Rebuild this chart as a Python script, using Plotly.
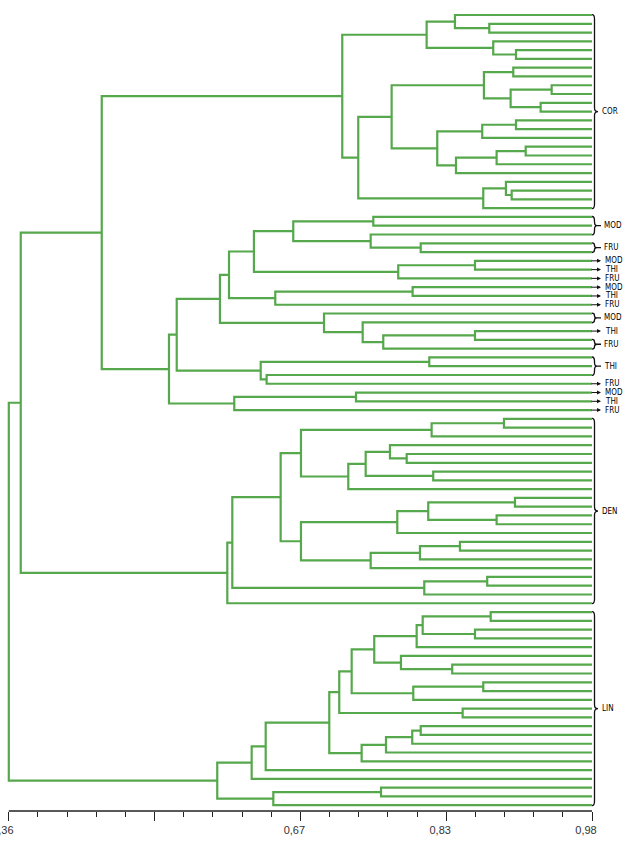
import plotly.graph_objects as go

# ---------------- data ----------------
AXIS_MIN, AXIS_MAX = 0.36, 0.98
TICK_VALUES = [0.36, 0.515, 0.67, 0.825, 0.98]
TICK_LABELS = ["0,36", "", "0,67", "0,83", "0,98"]
MINOR_STEP = 0.031

# Trees: [similarity, left, right]; None = leaf (leaves are numbered top to bottom)
COR_TREE = [0.7145,
            [0.8042,
             [0.8343, None, [0.8708, None, None]],
             [0.8750, None, [0.8992, None, None]]],
            [0.7315,
             [0.7670,
              [0.8651, [0.8963, None, None],
               [0.8935, [0.9371, None, None], [0.9254, None, None]]],
              [0.8155,
               [0.8633, [0.8992, None, None], None],
               [0.8354, [0.8786, [0.9095, None, None], None], None]]],
             [0.8644, [0.8885, None, [0.8946, None, None]], None]]]

MOD_TREE = [0.5303,
            [0.5385,
             [0.5845,
              [0.5941,
               [0.6206,
                [0.6624, [0.7475, None, None], [0.7447, None, [0.7979, None, None]]],
                [0.7740, [0.8556, None, None], None]],
               [0.6433, [0.7893, None, None], None]],
              [0.6951, None, [0.7362, None, [0.7581, [0.8556, None, None], None]]]],
             [0.6278, [0.8070, None, None], [0.6341, None, None]]],
            [0.5997, [0.7291, None, None], None]]

DEN_TREE = [0.5923,
            [0.5976,
             [0.6490,
              [0.6706,
               [0.8095, [0.8864, None, None], None],
               [0.7209,
                [0.7394, [0.7652, None, [0.7830, None, None]], [0.8112, None, None]],
                None]],
              [0.6706,
               [0.7730, [0.8059, [0.8981, None, None], [0.8786, None, None]], None],
               [0.7447, [0.7971, [0.8396, None, None], None], None]]],
             [0.8017, [0.8686, None, None], None]],
            None]

LIN_TREE = [0.5816,
            [0.6182,
             [0.6331,
              [0.7007,
               [0.7113,
                [0.7245,
                 [0.7485,
                  [0.7936, [0.8000, [0.8723, None, None], [0.8556, None, None]], None],
                  [0.7769, None, [0.8314, None, None]]],
                 [0.7900, [0.8644, None, None], None]],
                [0.8425, None, None]],
               [0.7351, [0.7610, [0.7889, [0.7979, None, None], None], None], None]],
              None],
             None],
            [0.6412, [0.7557, None, None], None]]

TOP_SIMS = [0.36, 0.3727, 0.4588]   # root, (COR+MOD)+DEN, COR+MOD

LABEL_KIND = ["brace", "brace", "brace", "arrow", "arrow", "arrow", "arrow", "arrow", "arrow",
              "brace", "arrow", "brace", "brace", "arrow", "arrow", "arrow", "arrow",
              "brace", "brace"]
LABEL_FIRST = [0, 23, 26, 28, 29, 30, 31, 32, 33, 34, 36, 37, 39, 42, 43, 44, 45, 46, 68]
LABEL_LAST = [22, 25, 27, 28, 29, 30, 31, 32, 33, 35, 36, 38, 41, 42, 43, 44, 45, 67, 90]
LABEL_TEXT = ["COR", "MOD", "FRU", "MOD", "THI", "FRU", "MOD", "THI", "FRU",
              "MOD", "THI", "FRU", "THI", "FRU", "MOD", "THI", "FRU", "DEN", "LIN"]

# ---------------- geometry ----------------
W, H = 624, 842
PLOT_RIGHT_PX = 592
AXIS_LEFT_PX = 8.8
TOP_PX, BOTTOM_PX = 8, 811
FIRST_LEAF_PX, LEAF_STEP_PX = 15, 8.78

frac = AXIS_LEFT_PX / PLOT_RIGHT_PX
x_lo = (AXIS_MIN - AXIS_MAX * frac) / (1 - frac)
y_top = (TOP_PX - FIRST_LEAF_PX) / LEAF_STEP_PX
y_bot = (BOTTOM_PX - FIRST_LEAF_PX) / LEAF_STEP_PX

xs, ys = [], []
counter = [0]


def segs(x1, y1, s, x2, y2):
    xs.extend([x1, s, s, x2, None])
    ys.extend([y1, y1, y2, y2, None])


def walk(node):
    if node is None:
        y = counter[0]
        counter[0] += 1
        return AXIS_MAX, y
    s, left, right = node
    xl, yl = walk(left)
    xr, yr = walk(right)
    segs(xl, yl, s, xr, yr)
    return s, (yl + yr) / 2


cor = walk(COR_TREE)
mod = walk(MOD_TREE)
den = walk(DEN_TREE)
lin = walk(LIN_TREE)
segs(cor[0], cor[1], TOP_SIMS[2], mod[0], mod[1])
cm = (TOP_SIMS[2], (cor[1] + mod[1]) / 2)
segs(cm[0], cm[1], TOP_SIMS[1], den[0], den[1])
cmd = (TOP_SIMS[1], (cm[1] + den[1]) / 2)
segs(cmd[0], cmd[1], TOP_SIMS[0], lin[0], lin[1])

fig = go.Figure()
fig.add_trace(go.Scatter(x=xs, y=ys, mode="lines",
                         line=dict(color="#55a84b", width=2.2), hoverinfo="skip",
                         showlegend=False))

shapes = []
annotations = []
label_font = dict(family="DejaVu Sans Condensed, Roboto, sans-serif", size=8, color="#000")


def brace_path(y0, y1, big):
    ym = (y0 + y1) / 2
    w = 2.5
    tip = 6 if big else 5
    a = min(0.45, (y1 - y0) / 4)
    p = (f"M0,{y0 - 0.05} Q{w},{y0 - 0.05} {w},{y0 + a} L{w},{ym - a} Q{w},{ym} {tip},{ym} "
         f"Q{w},{ym} {w},{ym + a} L{w},{y1 - a} Q{w},{y1 + 0.05} 0,{y1 + 0.05}")
    if not big:
        p += f" M{tip},{ym} L{tip + 4},{ym}"
    return p


for kind, a0, a1, txt in zip(LABEL_KIND, LABEL_FIRST, LABEL_LAST, LABEL_TEXT):
    ym = (a0 + a1) / 2
    if kind == "brace":
        big = (a1 - a0) > 5
        shapes.append(dict(type="path", xref="paper", yref="y", xsizemode="pixel",
                           xanchor=1, path=brace_path(a0, a1, big),
                           line=dict(color="#111", width=1.3)))
        annotations.append(dict(x=1, xshift=(9 if big else 11), y=ym, xref="paper", yref="y",
                                text=txt, showarrow=False, xanchor="left", yanchor="middle",
                                borderpad=0, font=label_font))
    else:
        annotations.append(dict(x=1, xshift=9, y=ym, xref="paper", yref="y", text="",
                                showarrow=True, ax=-11, ay=0, axref="pixel", ayref="pixel",
                                arrowhead=2, arrowsize=0.8, arrowwidth=1, arrowcolor="#111",
                                standoff=0, startstandoff=0))
        annotations.append(dict(x=1, xshift=12, y=ym, xref="paper", yref="y",
                                text=txt, showarrow=False, xanchor="left", yanchor="middle",
                                borderpad=0, font=label_font))

# axis line (drawn from 0.36 to 0.98 only)
shapes.append(dict(type="line", xref="x", yref="paper", x0=AXIS_MIN, x1=AXIS_MAX, y0=0, y1=0,
                   line=dict(color="#222", width=1.4)))

minor_vals = []
k = 1
while AXIS_MIN + k * MINOR_STEP < AXIS_MAX - 1e-6:
    if k % 5 != 0:
        minor_vals.append(round(AXIS_MIN + k * MINOR_STEP, 4))
    k += 1

fig.update_layout(
    width=W, height=H,
    margin=dict(l=0, r=W - PLOT_RIGHT_PX, t=TOP_PX, b=H - BOTTOM_PX, pad=0),
    paper_bgcolor="white", plot_bgcolor="white",
    showlegend=False,
    shapes=shapes,
    annotations=annotations,
    xaxis=dict(range=[x_lo, AXIS_MAX], showgrid=False, zeroline=False, showline=False,
               ticks="outside", ticklen=9, tickwidth=1, tickcolor="#222",
               tickmode="array", tickvals=TICK_VALUES, ticktext=TICK_LABELS,
               ticklabeloverflow="allow", ticklabelshift=-6,
               tickfont=dict(family="Liberation Sans, Arial, sans-serif", size=11, color="#333"),
               minor=dict(tickmode="array", tickvals=minor_vals, ticks="outside",
                          ticklen=5, tickwidth=1, tickcolor="#222", showgrid=False),
               automargin=False, fixedrange=True),
    yaxis=dict(range=[y_bot, y_top], visible=False, showgrid=False, zeroline=False,
               automargin=False, fixedrange=True),
)

fig.write_html("out.html", config={"displayModeBar": False},
               post_script="document.body.style.margin='0';")
